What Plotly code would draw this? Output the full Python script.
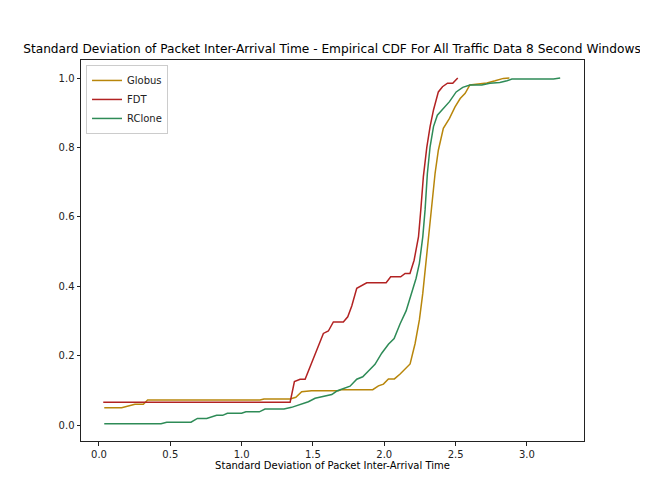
import plotly.graph_objects as go

globus_x = [0.037, 0.159, 0.252, 0.311, 0.341, 1.129, 1.157, 1.34, 1.38, 1.421, 1.49, 1.678, 1.702, 1.919,
            1.959, 1.994, 2.029, 2.071, 2.111, 2.153, 2.181, 2.216, 2.246, 2.27, 2.298, 2.326, 2.356, 2.379,
            2.414, 2.457, 2.496, 2.532, 2.567, 2.6, 2.649, 2.719, 2.777, 2.835, 2.877]
globus_y = [0.05, 0.05, 0.06, 0.06, 0.072, 0.072, 0.075, 0.075, 0.08, 0.096, 0.099, 0.099, 0.102, 0.102,
            0.113, 0.118, 0.133, 0.133, 0.147, 0.166, 0.176, 0.235, 0.303, 0.38, 0.495, 0.62, 0.725, 0.792,
            0.855, 0.884, 0.917, 0.941, 0.956, 0.98, 0.982, 0.986, 0.992, 0.999, 1.0]

fdt_x = [0.03, 1.34, 1.37, 1.41, 1.445, 1.573, 1.608, 1.643, 1.713, 1.744, 1.772, 1.807, 1.877, 2.013,
         2.045, 2.115, 2.146, 2.18, 2.209, 2.24, 2.256, 2.274, 2.298, 2.321, 2.345, 2.379, 2.408, 2.443,
         2.48, 2.515]
fdt_y = [0.066, 0.066, 0.125, 0.132, 0.132, 0.264, 0.271, 0.297, 0.297, 0.312, 0.343, 0.394, 0.41, 0.41,
         0.427, 0.427, 0.437, 0.437, 0.475, 0.543, 0.62, 0.716, 0.80, 0.86, 0.908, 0.96, 0.975, 0.985,
         0.985, 1.0]

rclone_x = [0.037, 0.435, 0.475, 0.645, 0.69, 0.755, 0.825, 0.867, 0.9, 1.0, 1.03, 1.124, 1.164, 1.297,
            1.35, 1.42, 1.468, 1.515, 1.573, 1.632, 1.667, 1.76, 1.807, 1.849, 1.889, 1.935, 1.982, 2.029,
            2.069, 2.111, 2.153, 2.193, 2.223, 2.246, 2.27, 2.286, 2.302, 2.321, 2.345, 2.372, 2.414,
            2.457, 2.504, 2.55, 2.6, 2.684, 2.74, 2.81, 2.86, 2.894, 3.186, 3.233]
rclone_y = [0.004, 0.004, 0.008, 0.008, 0.019, 0.019, 0.028, 0.028, 0.034, 0.034, 0.038, 0.038, 0.046,
            0.046, 0.051, 0.06, 0.067, 0.077, 0.082, 0.088, 0.098, 0.112, 0.132, 0.139, 0.156, 0.175,
            0.207, 0.233, 0.249, 0.292, 0.329, 0.38, 0.423, 0.466, 0.543, 0.62, 0.725, 0.802, 0.86, 0.893,
            0.913, 0.932, 0.96, 0.973, 0.98, 0.98, 0.985, 0.987, 0.992, 0.997, 0.997, 1.0]

x_ticks = [0.0, 0.5, 1.0, 1.5, 2.0, 2.5, 3.0]
y_ticks = [0.0, 0.2, 0.4, 0.6, 0.8, 1.0]

fig = go.Figure()
fig.add_trace(go.Scatter(x=globus_x, y=globus_y, mode="lines", name="Globus",
                         line=dict(color="#b8860b", width=1.5)))
fig.add_trace(go.Scatter(x=fdt_x, y=fdt_y, mode="lines", name="FDT",
                         line=dict(color="#b22222", width=1.5)))
fig.add_trace(go.Scatter(x=rclone_x, y=rclone_y, mode="lines", name="RClone",
                         line=dict(color="#2e8b57", width=1.5)))

axis_common = dict(showgrid=False, zeroline=False, showline=True, mirror=True,
                   linecolor="#222222", linewidth=1, ticks="outside", ticklen=3.5,
                   tickwidth=1, tickcolor="#222222",
                   tickfont=dict(family="DejaVu Sans", size=10, color="#222222"))

fig.update_layout(
    width=648, height=504,
    margin=dict(l=73, r=72, t=52, b=71),
    paper_bgcolor="white", plot_bgcolor="white",
    font=dict(family="DejaVu Sans", size=10, color="#222222"),
    title=dict(text="Standard Deviation of Packet Inter-Arrival Time - Empirical CDF For All Traffic Data 8 Second Windows",
               x=0.5, xanchor="center", yref="container", y=1 - 41 / 504, yanchor="middle",
               font=dict(family="DejaVu Sans", size=12.2, color="black")),
    xaxis=dict(range=[-0.126, 3.40], tickvals=x_ticks, ticktext=[f"{v:.1f}" for v in x_ticks],
               title=dict(text="Standard Deviation of Packet Inter-Arrival Time", standoff=3,
                          font=dict(family="DejaVu Sans", size=10, color="black")),
               **axis_common),
    yaxis=dict(range=[-0.046, 1.052], tickvals=y_ticks, ticktext=[f"{v:.1f}" for v in y_ticks],
               **axis_common),
    legend=dict(x=0.01, y=0.987, xanchor="left", yanchor="top", bgcolor="white",
                bordercolor="#cccccc", borderwidth=1, font=dict(family="DejaVu Sans", size=10),
                itemwidth=30, tracegroupgap=0),
    showlegend=True,
)

fig.write_html("out.html")
